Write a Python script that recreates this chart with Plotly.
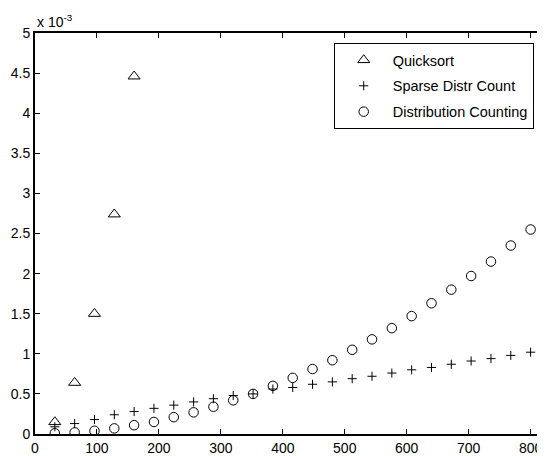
import plotly.graph_objects as go

x_quick = [32, 64, 96, 128, 160]
y_quick = [0.15, 0.64, 1.50, 2.74, 4.46]

x_n = [32 * k for k in range(1, 26)]
y_sparse = [0.09, 0.13, 0.18, 0.24, 0.28, 0.32, 0.36, 0.40, 0.44, 0.48, 0.50,
            0.56, 0.58, 0.62, 0.65, 0.69, 0.72, 0.76, 0.80, 0.83, 0.87, 0.91,
            0.94, 0.98, 1.02]
y_dist = [0.01, 0.02, 0.04, 0.07, 0.11, 0.15, 0.21, 0.27, 0.34, 0.42, 0.50,
          0.60, 0.70, 0.81, 0.92, 1.05, 1.18, 1.32, 1.47, 1.63, 1.80, 1.97,
          2.15, 2.35, 2.55]

names = ["Quicksort", "Sparse Distr Count", "Distribution Counting"]
x_ticks = [0, 100, 200, 300, 400, 500, 600, 700, 800]
y_ticks = [0, 0.5, 1, 1.5, 2, 2.5, 3, 3.5, 4, 4.5, 5]
y_ticklabels = ["0", "0.5", "1", "1.5", "2", "2.5", "3", "3.5", "4", "4.5", "5"]

FONT = "Liberation Sans, Arial, Helvetica, sans-serif"

fig = go.Figure()
fig.add_trace(go.Scatter(x=x_quick, y=y_quick, mode="markers", name=names[0],
                         legendgroup="a",
                         marker=dict(symbol="triangle-up-open", size=10.5, color="black",
                                     line=dict(width=1, color="black"))))
fig.add_trace(go.Scatter(x=x_n, y=y_sparse, mode="markers", name=names[1],
                         legendgroup="b",
                         marker=dict(symbol="cross-thin-open", size=6.5, color="black",
                                     line=dict(width=1, color="black"))))
fig.add_trace(go.Scatter(x=x_n, y=y_dist, mode="markers", name=names[2],
                         legendgroup="c",
                         marker=dict(symbol="circle-open", size=9.5, color="black",
                                     line=dict(width=1, color="black"))))

axis_common = dict(showgrid=False, zeroline=False, showline=True, linecolor="black",
                   linewidth=2, mirror="ticks", ticks="inside", ticklen=5,
                   tickcolor="black", tickwidth=1,
                   tickfont=dict(family=FONT, size=14, color="black"))

fig.update_xaxes(range=[0, 820], tickvals=x_ticks, **axis_common)
fig.update_yaxes(range=[0, 5], tickvals=y_ticks, ticktext=y_ticklabels, **axis_common)

fig.update_layout(
    width=537, height=448,
    margin=dict(l=27, r=0, t=25, b=20, pad=0),
    plot_bgcolor="white", paper_bgcolor="white",
    font=dict(family=FONT, size=14, color="black"),
    legend=dict(x=0.588, y=0.975, xanchor="left", yanchor="top",
                bordercolor="black", borderwidth=1, bgcolor="white",
                itemwidth=48, tracegroupgap=4,
                font=dict(family=FONT, size=14.5, color="black")),
    annotations=[dict(text="x 10<sup>-3</sup>", x=0, y=1, xref="paper", yref="paper",
                      xanchor="left", yanchor="bottom", showarrow=False,
                      font=dict(family=FONT, size=14, color="black"), yshift=1)],
)

fig.write_html("out.html")
